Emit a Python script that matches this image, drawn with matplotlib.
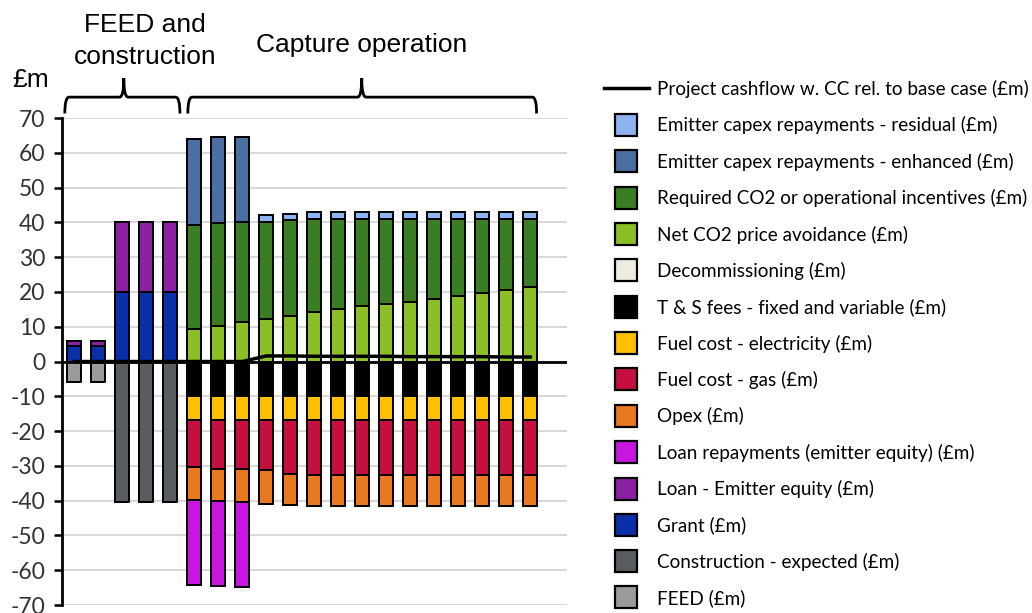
import matplotlib.pyplot as plt
from matplotlib.lines import Line2D
from matplotlib.path import Path
from matplotlib.patches import PathPatch
import numpy as np

# 20 years: 2 FEED, 3 construction, 15 capture operation
n_years = 20
years = np.arange(n_years)

feed = [-5.9, -5.9] + [0] * 18
construction = [0, 0, -40.3, -40.3, -40.3] + [0] * 15
grant = [4.4, 4.4, 20.0, 20.0, 20.0] + [0] * 15
loan_equity = [1.5, 1.5, 20.2, 20.2, 20.2] + [0] * 15
loan_repay = [0] * 5 + [-24.5, -24.4, -24.3] + [0] * 12
opex = [0] * 5 + [-9.4, -9.1, -9.4, -9.7, -9.0] + [-9.0] * 10
gas = [0] * 5 + [-13.5, -14.2, -14.2, -14.4, -15.4] + [-15.7] * 10
electricity = [0] * 5 + [-7.0] * 15
ts_fees = [0] * 5 + [-9.8, -9.8, -9.5] + [-9.5] * 12
decommissioning = [0] * 7 + [-0.3] * 13
net_co2 = [0] * 5 + [9.4, 10.3, 11.4, 12.2, 13.2, 14.3, 15.2, 16.0, 16.5,
                     17.2, 18.0, 18.8, 19.7, 20.6, 21.4]
required = [0] * 5 + [29.7, 29.5, 28.6, 28.0, 27.5, 26.7, 25.8, 25.0, 24.5,
                      23.8, 23.0, 22.2, 21.3, 20.4, 19.6]
enhanced = [0] * 5 + [24.8, 24.8, 24.6] + [0] * 12
residual = [0] * 8 + [1.8, 1.7] + [1.9] * 10
cashflow = [0] * 8 + [1.6, 1.6, 1.5, 1.5, 1.5, 1.5, 1.4, 1.4, 1.4, 1.4, 1.3, 1.3]

# series: (label, values, colour), stacked outwards from zero
positive = [
    ('Grant (£m)', grant, '#0a2fa8'),
    ('Loan - Emitter equity (£m)', loan_equity, '#8b20a0'),
    ('Net CO2 price avoidance (£m)', net_co2, '#8abf26'),
    ('Required CO2 or operational incentives (£m)', required, '#3a7d22'),
    ('Emitter capex repayments - enhanced (£m)', enhanced, '#4a6fa0'),
    ('Emitter capex repayments - residual (£m)', residual, '#8db4f0'),
]
negative = [
    ('FEED (£m)', feed, '#9a9a9a'),
    ('Construction - expected (£m)', construction, '#595d62'),
    ('Decommissioning (£m)', decommissioning, '#eeece1'),
    ('T & S fees - fixed and variable (£m)', ts_fees, '#000000'),
    ('Fuel cost - electricity (£m)', electricity, '#ffc000'),
    ('Fuel cost - gas (£m)', gas, '#c3103f'),
    ('Opex (£m)', opex, '#e8791e'),
    ('Loan repayments (emitter equity) (£m)', loan_repay, '#c816e0'),
]
legend_order = [
    'Emitter capex repayments - residual (£m)',
    'Emitter capex repayments - enhanced (£m)',
    'Required CO2 or operational incentives (£m)',
    'Net CO2 price avoidance (£m)',
    'Decommissioning (£m)',
    'T & S fees - fixed and variable (£m)',
    'Fuel cost - electricity (£m)',
    'Fuel cost - gas (£m)',
    'Opex (£m)',
    'Loan repayments (emitter equity) (£m)',
    'Loan - Emitter equity (£m)',
    'Grant (£m)',
    'Construction - expected (£m)',
    'FEED (£m)',
]

fig = plt.figure(figsize=(10.32, 6.13), dpi=100)
ax = fig.add_axes([0.060, 0.013, 0.489, 0.7945])

bar_w = 0.58
colours = {}
pos_base = np.zeros(n_years)
for label, vals, col in positive:
    vals = np.array(vals, dtype=float)
    ax.bar(years, vals, bar_w, bottom=pos_base, color=col, edgecolor='black',
           linewidth=1.4, zorder=2)
    pos_base += vals
    colours[label] = col

neg_base = np.zeros(n_years)
for label, vals, col in negative:
    vals = np.array(vals, dtype=float)
    ec = '#b0b0b0' if label.startswith('Decom') else 'black'
    ax.bar(years, vals, bar_w, bottom=neg_base, color=col, edgecolor=ec,
           linewidth=1.4 if ec == 'black' else 0.6, zorder=2)
    neg_base += vals
    colours[label] = col

ax.plot(years, cashflow, color='black', lw=2.5, zorder=4)
ax.axhline(0, color='black', lw=2, zorder=3)

ax.set_xlim(-0.52, 20.52)
ax.set_ylim(-70, 70)
ax.set_yticks(range(-70, 71, 10))
ax.set_yticklabels([str(v) for v in range(-70, 71, 10)], fontsize=16.5,
                   color='#333333', family='Lato')
ax.set_xticks([])
ax.yaxis.grid(True, color='#d4d4d4', lw=1.3)
ax.set_axisbelow(True)
for s in ['top', 'right', 'bottom']:
    ax.spines[s].set_visible(False)
ax.spines['left'].set_linewidth(2)
ax.tick_params(axis='y', direction='out', length=6, width=1.8, pad=6)


# curly braces over the two phases
def brace(x0, x1, xp):
    y_end, y_bar, y_top = 71.3, 76.0, 81.5
    dx = 0.18
    verts = [(x0, y_end), (x0, y_bar), (x0 + dx, y_bar),
             (xp - dx, y_bar), (xp, y_bar), (xp, y_top),
             (xp, y_bar), (xp + dx, y_bar),
             (x1 - dx, y_bar), (x1, y_bar), (x1, y_end)]
    codes = [Path.MOVETO, Path.CURVE3, Path.CURVE3,
             Path.LINETO, Path.CURVE3, Path.CURVE3,
             Path.CURVE3, Path.CURVE3,
             Path.LINETO, Path.CURVE3, Path.CURVE3]
    ax.add_patch(PathPatch(Path(verts, codes), fill=False, lw=2,
                           edgecolor='black', clip_on=False))


brace(-0.4, 4.4, 2.06)
brace(4.73, 19.27, 11.98)

fig.text(12 / 1032, 1 - 80 / 613, '£m', fontsize=19, family='Liberation Sans',
         va='center', ha='left')
fig.text(145 / 1032, 1 - 41 / 613, 'FEED and\nconstruction', fontsize=19,
         family='Liberation Sans', va='center', ha='center', linespacing=1.45)
fig.text(362 / 1032, 1 - 45 / 613, 'Capture operation', fontsize=19,
         family='Liberation Sans', va='center', ha='center')

handles = [Line2D([], [], color='black', lw=2.5)]
labels = ['Project cashflow w. CC rel. to base case (£m)']
for lab in legend_order:
    handles.append(Line2D([], [], marker='s', markersize=16, linestyle='none',
                          markerfacecolor=colours[lab], markeredgecolor='black',
                          markeredgewidth=1.6))
    labels.append(lab)

fig.legend(handles, labels, loc='upper left', bbox_to_anchor=(604 / 1032, 1 - 80 / 613),
           frameon=False, prop={'family': 'Lato', 'size': 13.6},
           handlelength=2.38, handletextpad=0.42, labelspacing=0.97, borderpad=0,
           borderaxespad=0)

fig.savefig('out.png', dpi=100)
